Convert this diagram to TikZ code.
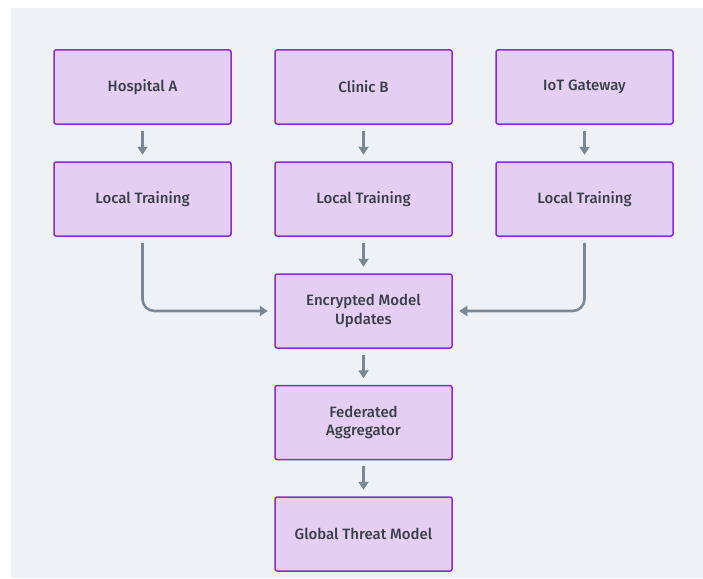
\documentclass[tikz,border=0pt]{standalone}
\usepackage{fontspec}
\setmainfont{Fira Sans}[BoldFont={* Medium}]
\usetikzlibrary{arrows.meta}
\definecolor{bgc}{HTML}{EEF2F6}
\definecolor{boxfill}{HTML}{E4CFF3}
\definecolor{boxline}{HTML}{8A2BD2}
\definecolor{arrowc}{HTML}{7A8794}
\definecolor{txt}{HTML}{3A3D4A}
\tikzset{
  stage/.style={draw=boxline, fill=boxfill, line width=1.5pt, rounded corners=2pt,
    minimum width=177pt, minimum height=74pt, inner sep=0pt,
    text=txt, font=\bfseries\fontsize{15}{18.5}\selectfont, align=center},
  flow/.style={draw=arrowc, line width=2.6pt,
    -{Triangle[length=8pt,width=10pt]}, shorten <=6pt, shorten >=6.5pt},
}
\begin{document}
\begin{tikzpicture}[x=1pt,y=-1pt]
\useasboundingbox (0,0) rectangle (703,578);
\fill[bgc] (11,8) rectangle (703,578);
% sources
\node[stage] (hosp) at (142.5,87) {Hospital A};
\node[stage] (clin) at (363.5,87) {Clinic B};
\node[stage] (iot)  at (584.5,87) {IoT Gateway};
% local training
\node[stage] (lt1) at (142.5,199) {Local Training};
\node[stage] (lt2) at (363.5,199) {Local Training};
\node[stage] (lt3) at (584.5,199) {Local Training};
% aggregation chain
\node[stage] (enc) at (363.5,311) {Encrypted Model\\Updates};
\node[stage] (agg) at (363.5,422.5) {Federated\\Aggregator};
\node[stage] (glob) at (363.5,534) {Global Threat Model};
% connectors
\draw[flow] (hosp) -- (lt1);
\draw[flow] (clin) -- (lt2);
\draw[flow] (iot) -- (lt3);
\draw[flow] (lt2) -- (enc);
\draw[flow] (enc) -- (agg);
\draw[flow] (agg) -- (glob);
\draw[flow, rounded corners=12pt] (lt1.south) |- (enc.west);
\draw[flow, rounded corners=12pt] (lt3.south) |- (enc.east);
\end{tikzpicture}
\end{document}
